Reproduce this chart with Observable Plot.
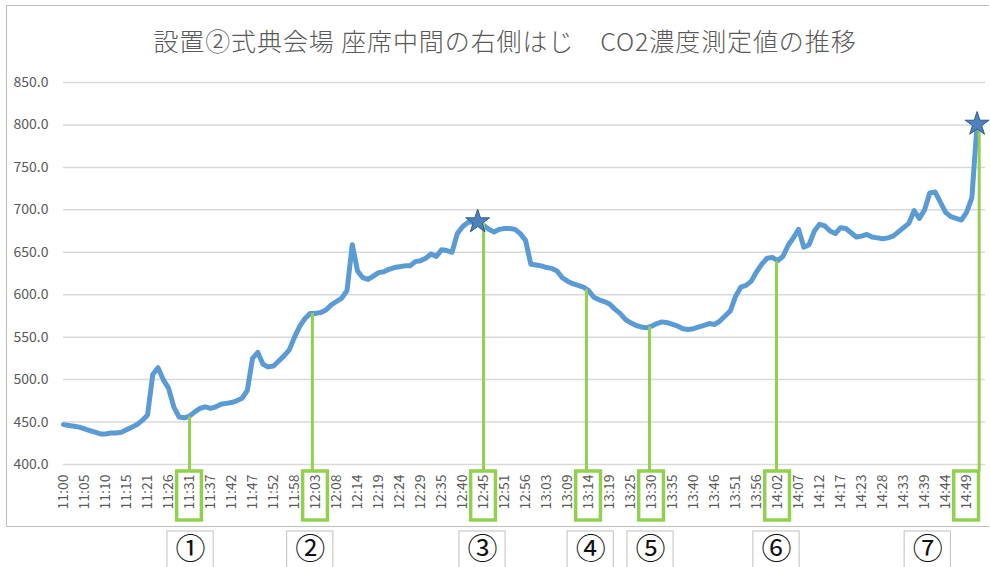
<!DOCTYPE html>
<html><head><meta charset="utf-8">
<script src="https://cdn.jsdelivr.net/npm/d3@7"></script>
<script src="https://cdn.jsdelivr.net/npm/@observablehq/plot@0.6"></script>
<style>
body{margin:0;background:#fff;}
#wrap{position:relative;width:990px;height:567px;overflow:hidden;font-family:"Noto Sans CJK JP",sans-serif;}
#frame{position:absolute;left:6px;top:5px;width:982px;height:520px;border:1px solid #bfbfbf;border-right:none;}
#title{position:absolute;top:28px;left:505px;transform:translateX(-50%);white-space:nowrap;font-size:25px;letter-spacing:0.9px;line-height:1;color:#595959;font-weight:300;}
#chart{position:absolute;left:0;top:0;}
</style></head>
<body><div id="wrap"><div id="frame"></div><div id="chart"></div><div id="title">設置②式典会場 座席中間の右側はじ　CO2濃度測定値の推移</div></div>
<script>
// x tick labels (category axis, one label per tick index)
const tickLabels = ["11:00","11:05","11:10","11:15","11:21","11:26","11:31","11:37","11:42","11:47","11:52","11:58",
  "12:03","12:08","12:14","12:19","12:24","12:29","12:35","12:40","12:45","12:51","12:56","13:03","13:09","13:14",
  "13:19","13:25","13:30","13:35","13:40","13:46","13:51","13:56","14:02","14:07","14:12","14:17","14:23","14:28",
  "14:33","14:39","14:44","14:49"];
// CO2 readings, 4 samples per tick interval
const sampleStep = 0.25;
const co2Values = [
  447,446,445,444,442,440,438,436,
  436,437,437,438,441,444,447,452,
  458,506,514,500,490,468,456,455,
  457,462,466,468,466,468,471,472,
  473,475,478,487,525,532,518,515,
  516,522,528,535,550,563,572,578,
  578,579,582,588,592,596,605,659,
  628,620,618,622,626,627,630,632,
  633,634,634,639,640,643,648,645,
  653,652,650,672,680,685,686,685,
  682,677,674,677,678,678,677,672,
  664,636,635,634,632,631,628,620,
  616,613,611,609,605,597,594,592,
  589,583,578,571,567,564,562,561,
  563,566,568,567,565,563,560,559,
  560,562,564,566,565,569,575,581,
  598,609,611,616,627,636,643,644,
  640,645,658,667,677,656,659,675,
  683,681,675,672,679,678,673,668,
  669,671,668,667,666,667,669,674,
  679,684,699,690,700,720,721,709,
  697,692,690,688,697,714,801
];
const yTicks = [400,450,500,550,600,650,700,750,800,850];
// event markers
const eventIdx = [6, 11.85, 20, 24.9, 27.9, 33.95, 43.6];
const eventVal = [456, 578, 684, 606, 562, 639, 801];
const boxedTickIdx = [6, 12, 20, 25, 28, 34, 43];
const noteIdx = [6.05, 11.75, 19.95, 25.1, 27.95, 33.95, 41.15];
const noteLabels = ["①","②","③","④","⑤","⑥","⑦"];
const starIdx = [19.72, 43.5];
const starVal = [686, 801];

const chart = Plot.plot({
  width: 990, height: 567,
  marginLeft: 63, marginRight: 5, marginTop: 82, marginBottom: 103,
  style: {background: "transparent", fontFamily: "'Noto Sans CJK JP', sans-serif", fontSize: "14px", color: "#595959", overflow: "visible"},
  x: {domain: [0, 43.9]},
  y: {domain: [400, 850]},
  marks: [
    Plot.ruleY(yTicks, {stroke: "#d9d9d9", strokeWidth: 1.5}),
    Plot.axisY(yTicks, {tickSize: 0, tickPadding: 15, tickFormat: d3.format(".1f"), label: null, fontSize: 14}),
    Plot.axisX(d3.range(tickLabels.length), {tickRotate: -90, tickSize: 0, tickPadding: 10, tickFormat: i => tickLabels[i], label: null, fontSize: 14}),
    Plot.line(co2Values, {x: (d, i) => i * sampleStep, y: d => d, stroke: "#5b9bd5", strokeWidth: 5, strokeLinejoin: "round"}),
    Plot.ruleX(eventIdx, {x: d => d, y1: (d, i) => eventVal[i], y2: 400, stroke: "#92d050", strokeWidth: 3, insetBottom: -7}),
    Plot.rect(boxedTickIdx, {x1: d => d - 0.59, x2: d => d + 0.59, y1: 400, y2: 400, insetTop: 7, insetBottom: -56, fill: "none", stroke: "#92d050", strokeWidth: 3.5}),
    Plot.rect(noteIdx, {x1: d => d - 1.1, x2: d => d + 1.1, y1: 400, y2: 400, insetTop: 67, insetBottom: -112, fill: "white", stroke: "#c0c0c0", strokeWidth: 1}),
    Plot.text(noteIdx, {x: d => d, y: 400, dy: 85, text: (d, i) => noteLabels[i], fontSize: 30, fill: "#111"}),
    Plot.dot(starIdx, {x: d => d, y: (d, i) => starVal[i], symbol: "star", r: 7.5, fill: "#4f81bd", stroke: "#2f5a8c", strokeWidth: 1})
  ]
});
document.getElementById("chart").appendChild(chart);
</script>
</body></html>
